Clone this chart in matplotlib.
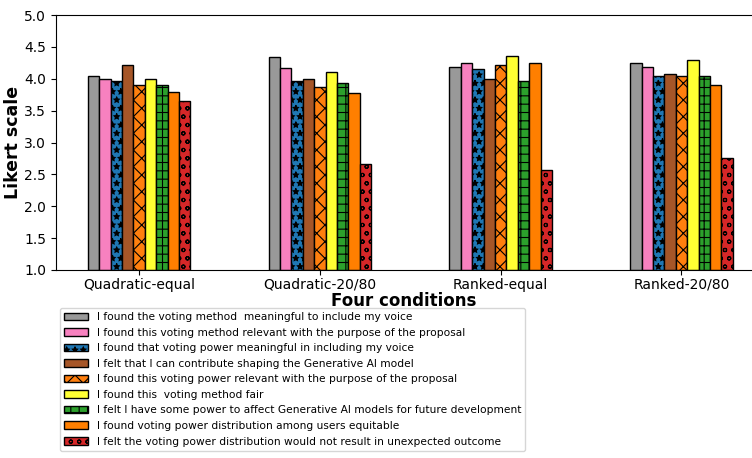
"""
Likert-scale responses for the four voting conditions
"""

import matplotlib
matplotlib.use("Agg")
import matplotlib.pyplot as plt
import numpy as np


conditions = ["Quadratic-equal", "Quadratic-20/80", "Ranked-equal", "Ranked-20/80"]

statements = [
    "I found the voting method  meaningful to include my voice",
    "I found this voting method relevant with the purpose of the proposal",
    "I found that voting power meaningful in including my voice",
    "I felt that I can contribute shaping the Generative AI model",
    "I found this voting power relevant with the purpose of the proposal",
    "I found this  voting method fair",
    "I felt I have some power to affect Generative AI models for future development",
    "I found voting power distribution among users equitable",
    "I felt the voting power distribution would not result in unexpected outcome",
]

# one list per statement, values for the four conditions
meaningful_voice = [4.04, 4.34, 4.18, 4.25]
method_relevant = [4.00, 4.17, 4.25, 4.18]
power_meaningful = [3.96, 3.97, 4.15, 4.04]
contribute_shaping = [4.22, 4.00, 4.00, 4.07]
power_relevant = [3.90, 3.87, 4.22, 4.04]
method_fair = [4.00, 4.10, 4.36, 4.29]
power_affect = [3.90, 3.94, 3.97, 4.04]
distribution_equitable = [3.79, 3.77, 4.25, 3.90]
no_unexpected = [3.65, 2.66, 2.57, 2.76]

values = [meaningful_voice, method_relevant, power_meaningful,
          contribute_shaping, power_relevant, method_fair, power_affect,
          distribution_equitable, no_unexpected]

colors = ["#999999", "#f781bf", "#1f77b4", "#a65628", "#ff7f0e",
          "#ffff33", "#2ca02c", "#ff7f00", "#d62728"]
hatches = ["", "", "**", "", "xx", "", "++", "", "oo"]

plt.rcParams["hatch.linewidth"] = 0.8

fig = plt.figure(figsize=(7.52, 4.58), dpi=100)
ax = fig.add_axes([0.0745, 0.4105, 0.9255, 0.5565])

x = np.arange(len(conditions))
width = 0.063
for i, vals in enumerate(values):
    ax.bar(x + (i - 4) * width, np.array(vals) - 1, width, bottom=1,
           color=colors[i], edgecolor="black", linewidth=1,
           hatch=hatches[i], label=statements[i])

ax.set_ylim([1, 5])
ax.set_xlim([-0.46, 3.39])
ax.set_xticks(x)
ax.set_xticklabels(conditions)
ax.tick_params(axis="x", pad=2)
ax.spines["right"].set_visible(False)
ax.set_ylabel("Likert scale", fontsize=12.5, fontweight="bold", labelpad=2)
ax.set_xlabel("Four conditions", fontsize=12, fontweight="bold", labelpad=0)

fig.legend(loc="upper left", bbox_to_anchor=(0.08, 0.328), fontsize=7.7,
           labelspacing=0.52, handlelength=2.2, borderaxespad=0,
           borderpad=0.4)

fig.savefig("out.png", dpi=100)
plt.close(fig)
